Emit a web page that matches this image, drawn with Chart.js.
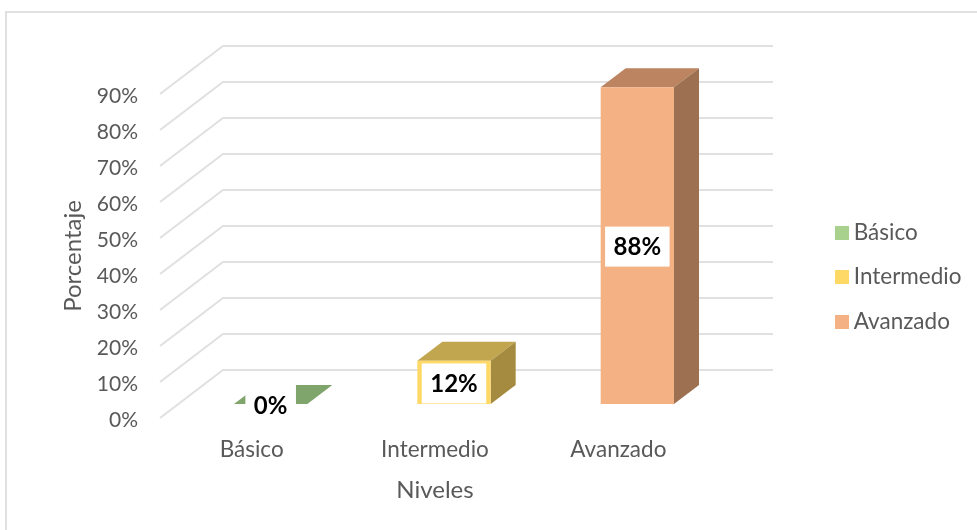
<!DOCTYPE html>
<html lang="es">
<head>
<meta charset="utf-8">
<title>Niveles</title>
<style>
  html, body { margin: 0; padding: 0; background: #fff; }
  canvas { display: block; }
</style>
<script src="https://cdn.jsdelivr.net/npm/chart.js@4/dist/chart.umd.min.js"></script>
</head>
<body>
<canvas id="chart" width="977" height="530"></canvas>
<script>
const categories = ['Básico', 'Intermedio', 'Avanzado'];
const percentages = [0, 12, 88];
const yTicks = [0, 10, 20, 30, 40, 50, 60, 70, 80, 90];
const frontColors = ['#A9D18E', '#FFD966', '#F4B183'];
const topColors = ['#7FA46C', '#C2A54F', '#BC8460'];
const sideColors = ['#6B8A5A', '#A58B3F', '#9C7050'];
const xTitle = 'Niveles';
const yTitle = 'Porcentaje';

const FONT = 'Lato, sans-serif';
const TEXT = '#595959';
const GRID = '#E0E0E0';

// Depth of the floor and walls, and where the columns stand within it.
const WALL_DX = 63, WALL_DY = 48;
const BAR_NEAR_DX = 19, BAR_NEAR_DY = 14;
const BAR_DX = 25, BAR_DY = 19;

// Square legend swatches, kept as small canvases so they sit close to their text.
const swatches = frontColors.map(color => {
  const c = document.createElement('canvas');
  c.width = c.height = 14;
  const g = c.getContext('2d');
  g.fillStyle = color;
  g.fillRect(0, 0, 14, 14);
  return c;
});

const threeD = {
  id: 'threeD',
  beforeDraw(chart) {
    // Frame: only the top and left edges fall inside the canvas.
    const { ctx, width, height } = chart;
    ctx.save();
    ctx.strokeStyle = '#E0E0E0';
    ctx.lineWidth = 2;
    ctx.beginPath();
    ctx.moveTo(6, height);
    ctx.lineTo(6, 12);
    ctx.lineTo(width, 12);
    ctx.stroke();
    ctx.restore();
  },
  afterLayout(chart) {
    // The legend floats away from the plot, beyond the back wall.
    const legend = chart.legend;
    const dx = 818.5 - legend.left;
    const dy = 277 - (legend.top + legend.bottom) / 2;
    legend.left += dx;
    legend.right += dx;
    legend.top += dy;
    legend.bottom += dy;
  },
  beforeDatasetsDraw(chart) {
    // Floor and wall gridlines, one polyline per tick.
    const { ctx, chartArea, scales } = chart;
    ctx.save();
    ctx.strokeStyle = GRID;
    ctx.lineWidth = 2;
    yTicks.forEach(v => {
      const y = scales.y.getPixelForValue(v);
      ctx.beginPath();
      ctx.moveTo(chartArea.left, y);
      ctx.lineTo(chartArea.left + WALL_DX, y - WALL_DY);
      ctx.lineTo(chartArea.right + WALL_DX, y - WALL_DY);
      ctx.stroke();
    });
    ctx.restore();
  },
  beforeDatasetDraw(chart) {
    // Columns stand part-way back, so the whole dataset is moved into depth.
    const { ctx } = chart;
    ctx.save();
    ctx.translate(BAR_NEAR_DX, -BAR_NEAR_DY);
    chart.getDatasetMeta(0).data.forEach((bar, i) => {
      const half = bar.width / 2;
      const left = bar.x - half, right = bar.x + half;
      // Top face
      ctx.fillStyle = topColors[i];
      ctx.beginPath();
      ctx.moveTo(left, bar.y);
      ctx.lineTo(left + BAR_DX, bar.y - BAR_DY);
      ctx.lineTo(right + BAR_DX, bar.y - BAR_DY);
      ctx.lineTo(right, bar.y);
      ctx.closePath();
      ctx.fill();
      // Side face
      ctx.fillStyle = sideColors[i];
      ctx.beginPath();
      ctx.moveTo(right, bar.y);
      ctx.lineTo(right + BAR_DX, bar.y - BAR_DY);
      ctx.lineTo(right + BAR_DX, bar.base - BAR_DY);
      ctx.lineTo(right, bar.base);
      ctx.closePath();
      ctx.fill();
    });
  },
  afterDatasetDraw(chart) {
    const { ctx } = chart;
    ctx.restore();
    // Value labels on white plates, centred on each column's front face.
    ctx.save();
    ctx.font = 'bold 24px ' + FONT;
    ctx.textAlign = 'center';
    ctx.textBaseline = 'middle';
    chart.getDatasetMeta(0).data.forEach((bar, i) => {
      const cx = bar.x + BAR_NEAR_DX;
      const cy = (bar.y + bar.base) / 2 - BAR_NEAR_DY + 1;
      const label = percentages[i] + '%';
      const w = ctx.measureText(label).width + 17;
      ctx.fillStyle = '#fff';
      ctx.fillRect(cx - w / 2, cy - 20, w, 40);
      ctx.fillStyle = '#000';
      ctx.fillText(label, cx, cy + 1);
    });
    ctx.restore();
  }
};

new Chart(document.getElementById('chart'), {
  type: 'bar',
  data: {
    labels: categories,
    datasets: [{
      data: percentages,
      backgroundColor: frontColors,
      borderWidth: 0,
      categoryPercentage: 1,
      barPercentage: 0.4,
      clip: false
    }]
  },
  plugins: [threeD],
  options: {
    responsive: false,
    animation: false,
    devicePixelRatio: 1,
    layout: { padding: { top: 94, left: 59, right: 114, bottom: 25 } },
    plugins: {
      tooltip: { enabled: false },
      legend: {
        position: 'right',
        labels: {
          color: TEXT,
          font: { family: FONT, size: 22.5 },
          usePointStyle: true,
          pointStyleWidth: 2,
          boxHeight: 14,
          padding: 22,
          generateLabels: () => categories.map((text, i) => ({
            text,
            pointStyle: swatches[i],
            fillStyle: frontColors[i],
            strokeStyle: frontColors[i],
            lineWidth: 0,
            fontColor: TEXT,
            index: i
          }))
        }
      }
    },
    scales: {
      x: {
        grid: { display: false, drawTicks: false },
        border: { display: false },
        afterFit: scale => { scale.height = 87; },
        ticks: { color: TEXT, font: { family: FONT, size: 22.5 }, padding: 18, maxRotation: 0 },
        title: {
          display: true, text: xTitle, color: TEXT,
          font: { family: FONT, size: 24 }, padding: { top: 14, bottom: 0 }
        }
      },
      y: {
        min: 0,
        max: 90,
        grid: { display: false, drawTicks: false },
        border: { display: false },
        afterBuildTicks: scale => { scale.ticks = yTicks.map(value => ({ value })); },
        afterFit: scale => { scale.width = 101; },
        ticks: {
          color: TEXT,
          font: { family: FONT, size: 21 },
          padding: 22,
          labelOffset: 2,
          callback: v => v + '%'
        },
        title: {
          display: true, text: yTitle, color: TEXT,
          font: { family: FONT, size: 24 }, padding: { top: 0, bottom: 0 }
        }
      }
    }
  }
});
</script>
</body>
</html>
